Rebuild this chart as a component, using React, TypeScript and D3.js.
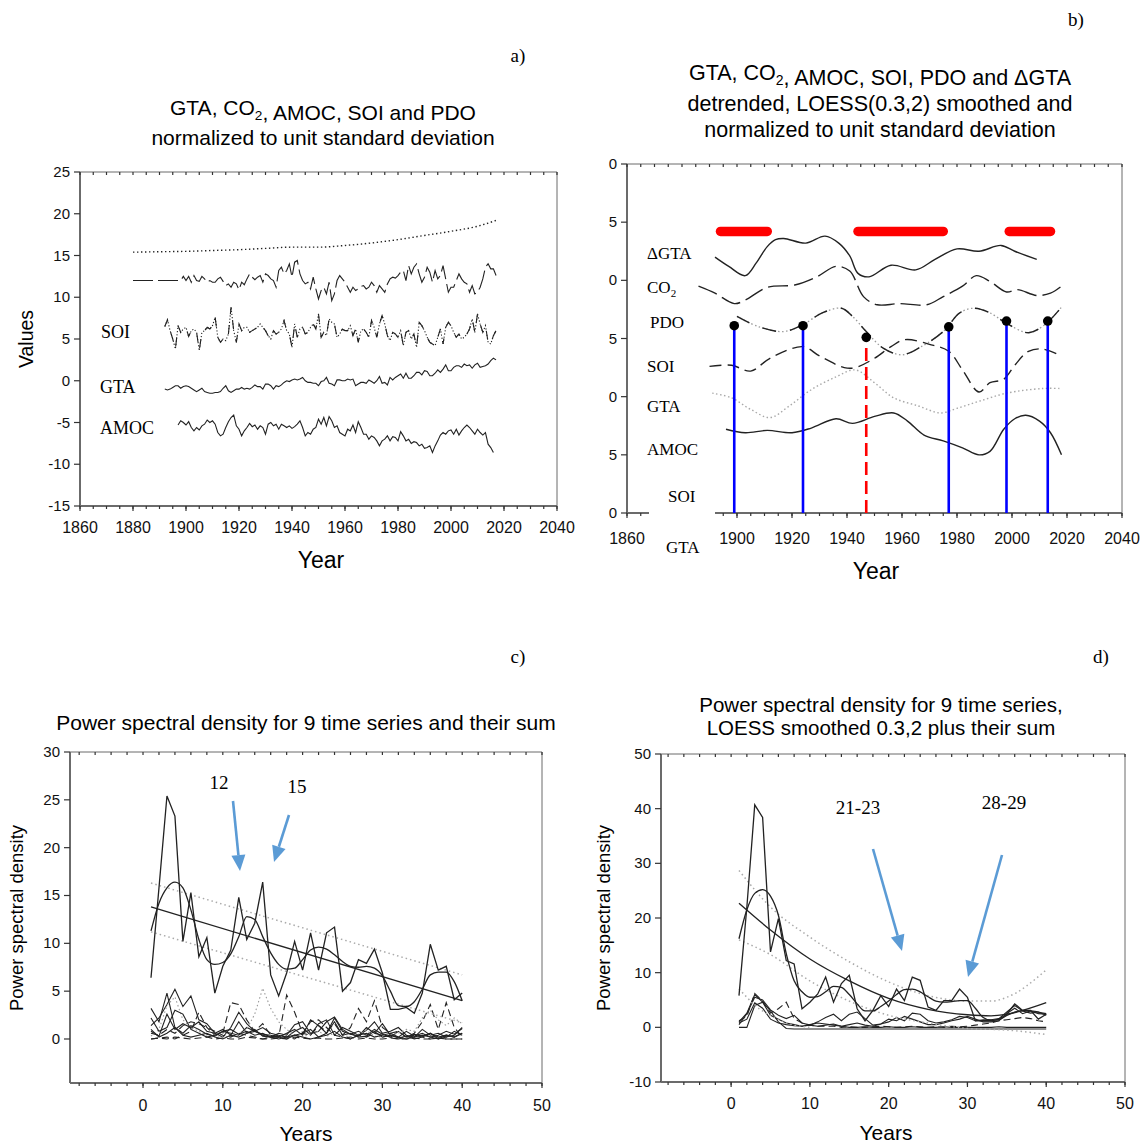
import React from 'react';
import * as d3 from 'd3';

const SANS = '"Liberation Sans", Arial, Helvetica, sans-serif';
const SERIF = '"Liberation Serif", "Times New Roman", Times, serif';
const AXIS = '#6b6b6b';
const INK = '#222';
const ARROW = '#5b9bd5';

// ---------- a) annual series ----------
const co2AYears = [1880, 1890, 1900, 1910, 1920, 1930, 1940, 1950, 1960, 1970, 1980, 1990, 2000, 2010, 2017];
const co2AValues = [15.4, 15.45, 15.5, 15.6, 15.7, 15.85, 16.0, 16.0, 16.2, 16.5, 16.9, 17.4, 17.9, 18.5, 19.2];

const pdoAEarlyYears = [1880, 1897];
const pdoAEarlyValues = [12.0, 12.0];
const pdoAStart = 1898;
const pdoAValues = [
  12.0, 12.5, 12.0, 12.5, 11.8, 12.6, 12.0, 11.9, 12.5, 12.2, 11.8, 12.0, 11.8, 11.8, 12.2, 12.4, 11.9, 11.4, 11.6, 11.2,
  11.8, 11.6, 10.9, 11.8, 11.5, 12.2, 12.8, 12.4, 12.1, 12.4, 12.6, 11.8, 12.8, 12.6, 12.2, 12.0, 11.2, 13.2, 13.6, 12.8,
  13.2, 14.0, 12.4, 14.2, 14.4, 12.8, 12.0, 11.6, 11.8, 11.0, 12.4, 11.0, 9.8, 10.8, 11.2, 10.4, 11.8, 9.6, 10.4, 12.0,
  12.6, 12.2, 11.8, 11.2, 10.6, 11.2, 10.8, 11.0, 11.3, 11.4, 11.0, 11.2, 11.8, 11.4, 10.6, 11.4, 11.0, 10.6, 11.6, 12.2,
  12.4, 12.3, 12.6, 13.0, 13.2, 12.0, 13.8, 12.8, 13.6, 14.0, 12.8, 11.8, 12.4, 13.6, 13.0, 11.8, 13.2, 12.2, 12.6, 13.8,
  12.2, 10.6, 11.2, 11.2, 12.0, 12.8, 12.2, 11.8, 11.6, 10.6, 11.4, 10.4, 10.6, 11.2, 12.2, 13.6, 14.0, 13.4, 13.4, 12.6,
];

const soiAStart = 1892;
const soiAValues = [
  6.5, 7.3, 6.0, 5.0, 3.8, 6.6, 5.8, 6.2, 6.4, 5.3, 6.0, 6.2, 5.8, 3.6, 5.8, 6.0, 6.4, 6.2, 6.6, 7.6,
  5.2, 4.6, 5.0, 4.8, 5.6, 8.8, 6.0, 4.6, 6.8, 6.0, 6.4, 6.4, 5.8, 6.0, 6.2, 6.4, 6.8, 6.4, 6.0, 5.4,
  5.0, 6.0, 5.6, 5.8, 6.2, 7.2, 6.0, 5.6, 4.0, 6.8, 5.2, 6.2, 6.4, 5.6, 5.8, 6.4, 6.8, 6.2, 8.0, 5.2,
  5.8, 5.4, 7.4, 7.0, 6.8, 5.2, 5.6, 6.2, 6.0, 6.0, 6.6, 5.4, 6.2, 4.6, 6.0, 6.2, 5.8, 5.2, 7.2, 6.4,
  5.2, 6.8, 7.8, 6.8, 5.4, 4.8, 5.8, 5.6, 5.2, 6.0, 4.2, 5.8, 6.0, 5.0, 5.6, 4.0, 7.0, 6.6, 6.0, 5.2,
  4.6, 4.4, 4.2, 5.2, 6.2, 4.4, 6.4, 7.0, 6.6, 5.8, 5.2, 5.6, 5.0, 5.2, 5.6, 6.2, 7.4, 5.8, 8.0, 6.8,
  5.8, 6.6, 4.6, 4.4, 5.4, 6.0,
];

const gtaAStart = 1892;
const gtaAValues = [
  -1.0, -1.1, -1.0, -0.8, -0.6, -0.6, -0.9, -0.7, -0.6, -0.7, -0.9, -1.1, -1.3, -1.1, -0.9, -1.3, -1.4, -1.5, -1.5, -1.4,
  -1.4, -1.3, -0.9, -0.6, -1.2, -1.4, -1.2, -1.0, -1.0, -0.8, -1.0, -0.9, -1.0, -0.8, -0.5, -0.7, -0.7, -1.0, -0.4, -0.4,
  -0.6, -1.0, -0.6, -0.7, -0.5, -0.2, 0.0, -0.1, 0.1, 0.2, 0.1, 0.2, 0.4, 0.0, -0.2, -0.2, -0.3, -0.3, -0.6, -0.1,
  0.0, 0.4, -0.3, -0.4, -0.6, 0.1, 0.1, 0.0, 0.0, 0.2, 0.1, 0.2, -0.6, -0.4, -0.2, -0.2, -0.3, 0.1, -0.1, -0.3,
  0.0, 0.5, -0.3, -0.2, -0.5, 0.4, 0.1, 0.4, 0.6, 0.8, 0.3, 0.9, 0.3, 0.3, 0.6, 1.0, 1.0, 0.7, 1.2, 1.1,
  0.6, 0.6, 0.9, 1.3, 1.0, 1.4, 1.9, 1.2, 1.2, 1.6, 1.8, 1.8, 1.6, 2.0, 1.8, 1.9, 1.5, 1.9, 2.1, 1.6,
  1.7, 1.8, 2.0, 2.4, 2.7, 2.5,
];

const amocAStart = 1897;
const amocAValues = [
  -5.3, -4.8, -5.0, -5.3, -4.9, -5.6, -6.0, -5.6, -5.9, -5.4, -5.2, -4.7, -5.0, -4.8, -5.2, -6.2, -6.6, -6.4, -5.6, -4.9,
  -4.4, -4.1, -5.4, -5.8, -6.6, -6.0, -5.6, -5.1, -5.5, -5.3, -5.8, -5.4, -5.6, -6.4, -5.2, -5.0, -5.4, -5.2, -5.8, -5.2,
  -5.4, -5.6, -5.4, -5.7, -5.5, -5.2, -4.8, -5.6, -6.6, -6.2, -6.4, -5.8, -5.6, -4.6, -5.2, -4.4, -5.4, -4.3, -4.8, -5.6,
  -5.4, -6.2, -6.4, -6.6, -5.8, -6.0, -5.3, -6.2, -4.9, -5.6, -6.4, -6.4, -7.0, -6.6, -6.8, -7.2, -7.8, -7.2, -7.0, -6.6,
  -7.2, -6.7, -6.8, -7.2, -6.1, -6.6, -7.2, -7.0, -7.5, -7.3, -7.4, -7.8, -7.6, -8.1, -8.0, -7.8, -8.6, -7.8, -7.2, -6.5,
  -6.2, -6.4, -6.0, -5.9, -6.4, -5.8, -6.5, -6.0, -5.6, -5.3, -5.6, -6.0, -6.4, -5.8, -6.2, -6.5, -6.2, -7.6, -8.0, -8.6,
];

// ---------- b) detrended, smoothed series ----------
const dgtaBYears = [1892, 1897, 1903, 1907, 1911, 1914, 1917, 1925, 1932, 1937, 1941, 1944, 1948, 1956, 1965, 1972, 1980, 1988, 1996, 2001, 2009];
const dgtaBValues = [22.0, 21.2, 20.4, 21.5, 22.9, 23.5, 23.6, 23.2, 23.8, 23.2, 22.1, 20.6, 20.3, 21.3, 20.9, 21.8, 22.7, 22.5, 23.0, 22.5, 21.8];
const co2BYears = [1886, 1892, 1899, 1903, 1911, 1921, 1929, 1936, 1941, 1946, 1951, 1959, 1969, 1975, 1982, 1987, 1992, 1998, 2002, 2009, 2014, 2018];
const co2BValues = [19.5, 18.9, 18.0, 18.3, 19.4, 19.6, 20.3, 21.2, 20.8, 18.6, 17.9, 18.0, 17.9, 18.6, 19.5, 20.4, 19.9, 19.0, 19.2, 18.7, 18.9, 19.5];
const pdoBYears = [1900, 1908, 1917, 1924, 1931, 1938, 1942, 1947, 1953, 1960, 1967, 1975, 1981, 1986, 1992, 1998, 2006, 2012, 2018];
const pdoBValues = [16.9, 16.0, 15.6, 16.2, 17.2, 17.6, 16.9, 15.6, 14.2, 13.6, 14.3, 15.6, 17.2, 17.6, 17.2, 16.3, 15.5, 16.2, 17.7];
const soiBYears = [1890, 1898, 1905, 1912, 1924, 1930, 1939, 1943, 1950, 1956, 1961, 1970, 1977, 1982, 1988, 1992, 1997, 2001, 2006, 2011, 2018];
const soiBValues = [12.6, 12.7, 12.2, 13.3, 14.3, 13.5, 12.5, 12.5, 13.3, 14.3, 14.9, 14.5, 13.9, 12.3, 10.4, 11.2, 11.5, 12.7, 13.9, 14.1, 13.5];
const gtaBYears = [1891, 1898, 1905, 1912, 1919, 1927, 1936, 1943, 1950, 1957, 1966, 1974, 1980, 1988, 1998, 2011, 2018];
const gtaBValues = [10.3, 9.9, 8.9, 8.2, 9.2, 10.6, 11.7, 12.3, 11.2, 9.9, 9.2, 8.6, 9.0, 9.6, 10.3, 10.7, 10.7];
const amocBYears = [1896, 1903, 1911, 1920, 1927, 1936, 1942, 1950, 1957, 1962, 1968, 1975, 1982, 1988, 1992, 1997, 2001, 2005, 2010, 2014, 2018];
const amocBValues = [7.2, 6.9, 7.1, 6.9, 7.3, 8.1, 7.7, 8.3, 8.6, 7.9, 6.7, 6.2, 5.6, 5.0, 5.3, 7.2, 8.1, 8.4, 7.9, 6.9, 5.0];

const blueYears = [1899, 1924, 1977, 1998, 2013];
const blueTops = [16.1, 16.1, 16.0, 16.5, 16.5];
const redYears = [1947];
const redTops = [15.1];
const redBarStarts = [1894, 1944, 1999];
const redBarEnds = [1911, 1975, 2014];
const redBarLevel = 24.2;

// ---------- c) power spectral density, raw ----------
const periods = d3.range(1, 41);
const sumC = [6.4, 15.8, 25.4, 23.3, 10.2, 15.3, 8.6, 10.6, 4.8, 7.6, 9.3, 14.8, 10.4, 12.1, 16.4, 6.7, 4.5, 6.9, 10.2, 7.2,
  11.1, 7.2, 11.1, 11.7, 5.0, 5.9, 8.3, 7.9, 9.4, 6.9, 3.1, 3.1, 3.3, 2.7, 4.8, 9.9, 7.2, 7.6, 4.1, 4.8];
const smoothC = [11.3, 14.2, 15.8, 16.4, 15.8, 13.5, 10.4, 8.3, 7.8, 8.0, 8.9, 10.7, 12.8, 12.5, 10.7, 9.0, 7.8, 7.3, 7.4, 8.3,
  9.3, 9.6, 9.4, 8.8, 8.1, 7.6, 7.5, 7.6, 7.4, 6.6, 5.0, 3.5, 3.4, 3.9, 5.2, 6.7, 7.0, 7.0, 6.0, 4.0];
const trendCX = [1, 40];
const trendC = [13.8, 4.0];
const upperC = [16.3, 6.7];
const lowerC = [11.2, 1.7];
const lowC = [
  [3.2, 1.8, 4.8, 1.2, 0.6, 1.4, 1.0, 0.5, 0.3, 0.8, 0.6, 0.4, 1.2, 0.8, 0.5, 0.4, 0.2, 0.6, 1.0, 0.4, 2.0, 1.4, 0.6, 2.2, 0.8, 0.5, 0.3, 1.2, 0.6, 1.6, 0.4, 0.2, 0.8, 0.3, 0.6, 0.2, 0.4, 0.8, 0.5, 1.1],
  [1.4, 2.2, 3.6, 5.2, 3.4, 4.5, 2.0, 1.6, 0.6, 1.0, 0.4, 1.8, 0.6, 1.0, 0.3, 0.2, 0.6, 0.4, 1.5, 1.8, 0.6, 0.8, 1.8, 2.3, 1.0, 0.5, 0.8, 0.4, 1.0, 0.5, 0.2, 0.8, 0.2, 0.5, 0.3, 0.6, 0.2, 0.4, 0.2, 0.6],
  [0.8, 0.3, 2.6, 1.0, 1.6, 1.2, 1.8, 0.8, 0.6, 0.2, 1.2, 2.8, 1.6, 0.8, 1.2, 0.6, 0.4, 0.2, 0.8, 1.2, 0.4, 1.6, 2.0, 0.4, 1.2, 0.8, 0.4, 0.9, 1.8, 0.6, 0.8, 1.2, 0.4, 0.2, 1.0, 0.4, 0.6, 0.2, 0.8, 0.4],
  [0.0, 0.1, 0.2, 0.0, 0.4, 0.8, 2.8, 1.2, 0.4, 0.6, 3.8, 3.6, 2.0, 0.8, 1.6, 0.4, 0.2, 4.6, 2.8, 0.6, 0.4, 1.4, 0.8, 1.6, 0.4, 1.2, 3.2, 1.8, 4.0, 1.2, 0.6, 0.8, 0.2, 0.6, 1.8, 3.6, 1.0, 3.8, 1.2, 0.2],
  [0.0, 0.1, 0.0, 0.2, 0.1, 0.0, 0.1, 0.2, 0.0, 0.1, 0.0, 0.0, 0.2, 0.1, 0.0, 0.0, 0.1, 0.0, 0.2, 0.1, 0.0, 0.1, 0.0, 0.0, 0.1, 0.2, 0.0, 0.1, 0.0, 0.0, 0.1, 0.0, 0.0, 0.1, 0.0, 0.0, 0.1, 0.0, 0.0, 0.0],
  [0.3, 1.0, 3.5, 4.4, 2.0, 1.2, 0.8, 0.3, 0.4, 0.2, 0.3, 0.6, 1.0, 2.6, 5.3, 3.2, 1.8, 1.0, 0.4, 0.2, 0.5, 0.8, 0.3, 0.6, 0.4, 0.2, 0.5, 0.9, 0.3, 0.2, 0.4, 0.6, 1.0, 0.8, 2.2, 3.0, 2.0, 1.4, 2.2, 1.6],
  [2.2, 0.8, 1.2, 3.0, 2.6, 1.0, 0.6, 0.2, 0.4, 0.8, 1.0, 0.5, 0.8, 0.4, 0.6, 0.2, 0.2, 0.0, 0.4, 0.6, 1.0, 0.2, 0.6, 1.8, 0.4, 0.6, 0.2, 0.3, 0.8, 0.2, 0.4, 0.1, 0.3, 0.0, 0.2, 0.6, 0.0, 0.2, 0.4, 1.2],
  [0.6, 0.4, 1.0, 0.6, 1.4, 1.8, 1.6, 1.2, 0.8, 0.4, 0.2, 0.6, 0.4, 0.2, 0.0, 0.2, 0.4, 0.2, 0.0, 0.6, 1.8, 2.0, 1.2, 0.4, 0.2, 0.0, 0.4, 0.2, 0.6, 0.4, 0.2, 0.0, 0.2, 0.4, 0.2, 0.0, 0.1, 0.0, 0.0, 0.0],
  [1.0, 0.2, 0.6, 1.2, 0.4, 0.2, 0.4, 0.6, 0.2, 0.0, 0.4, 0.2, 0.6, 0.8, 0.4, 0.2, 0.0, 0.2, 0.4, 0.2, 0.0, 0.2, 0.4, 0.8, 0.2, 0.0, 0.4, 0.6, 0.2, 0.4, 0.6, 0.2, 0.0, 0.2, 0.4, 0.2, 0.0, 0.4, 0.2, 0.6],
];
const lowCStyles = ['solid', 'solid', 'solid', 'dash', 'dash', 'dot', 'solid', 'dash', 'solid'];

// ---------- d) power spectral density, LOESS smoothed ----------
const sumD = [5.8, 22.0, 40.7, 38.4, 13.8, 19.9, 12.2, 11.6, 3.4, 4.6, 6.1, 9.2, 4.6, 8.0, 9.5, 3.4, 1.2, 3.1, 5.8, 3.8,
  7.0, 4.9, 9.2, 8.6, 3.7, 3.1, 4.9, 4.9, 7.0, 5.5, 1.2, 1.2, 1.2, 1.5, 2.4, 4.3, 3.1, 3.1, 1.5, 2.4];
const smoothD = [16.2, 21.5, 24.5, 25.2, 24.0, 20.5, 13.5, 8.5, 6.5, 5.5, 5.6, 6.5, 7.5, 7.3, 6.0, 4.3, 3.0, 3.0, 3.8, 4.8,
  6.0, 6.9, 7.0, 6.5, 5.6, 4.8, 4.6, 4.7, 4.9, 4.9, 3.5, 1.8, 1.3, 1.4, 2.2, 2.8, 3.0, 3.0, 2.8, 2.5];
const fitDX = [1, 5, 10, 15, 20, 25, 30, 33, 35, 40];
const fitD = [22.7, 17.8, 12.5, 8.5, 5.3, 3.3, 2.3, 2.1, 2.4, 4.5];
const upperD = [28.7, 22.0, 16.5, 12.0, 8.3, 5.8, 4.8, 4.8, 5.5, 10.5];
const lowerDX = [1, 5, 10, 15, 20, 25, 30, 35, 40];
const lowerD = [16.0, 13.3, 8.5, 4.8, 2.2, 0.8, -0.2, -0.5, -1.3];
const lowD = [
  [1.0, 2.6, 6.0, 4.6, 3.0, 1.0, -0.2, -0.3, -0.3, -0.3, -0.3, -0.3, -0.3, -0.3, -0.3, -0.3, -0.3, -0.3, -0.3, -0.3, -0.3, -0.3, -0.3, -0.3, -0.3, -0.3, -0.3, -0.3, -0.3, -0.3, -0.3, -0.3, -0.3, -0.3, -0.3, -0.3, -0.3, -0.3, -0.3, -0.3],
  [0.5, 2.5, 5.5, 5.0, 3.2, 2.2, 1.6, 2.2, 0.8, 0.4, 1.0, 1.8, 2.4, 1.2, 2.4, 2.8, 1.6, 0.4, 0.6, 1.0, 1.8, 1.2, 2.6, 2.4, 1.2, 0.8, 1.0, 1.4, 2.0, 1.8, 1.2, 1.4, 1.4, 1.6, 2.8, 4.0, 3.0, 2.6, 2.8, 2.2],
  [0.0, 0.0, 4.0, 4.6, 2.2, 1.5, 0.8, 0.5, 0.2, 0.4, 0.2, 0.4, 0.6, 0.2, 0.0, 0.0, 0.1, 0.0, 0.0, 0.1, 0.0, 0.0, 0.1, 0.0, 0.0, 0.0, 0.1, 0.0, 0.0, 0.0, 0.0, 0.0, 0.0, 0.1, 0.0, 0.0, 0.0, 0.0, 0.0, 0.0],
  [1.2, 2.0, 6.2, 4.8, 2.6, 3.4, 4.6, 1.6, 0.8, 0.4, 0.2, 0.2, 0.2, 0.0, 0.1, 0.0, 0.0, 0.1, 0.2, 0.1, 0.0, 0.1, 0.2, 0.1, 0.0, 0.1, 0.0, 0.2, 0.1, 0.2, 0.4, 0.6, 0.8, 1.2, 1.4, 1.6, 1.8, 1.6, 1.2, 1.0],
  [0.8, 1.5, 4.5, 3.5, 1.5, 0.8, 0.5, 0.3, 0.2, 0.5, 0.8, 0.6, 0.4, 0.2, 0.5, 0.8, 0.4, 0.2, 0.6, 1.5, 1.2, 2.0, 1.5, 1.0, 0.5, 0.5, 0.8, 1.2, 1.5, 2.0, 1.5, 1.0, 1.0, 1.2, 2.5, 3.5, 2.5, 3.0, 2.5, 2.4],
];
const lowDStyles = ['solid', 'solid', 'solid', 'dash', 'solid'];
const dotDX = [1, 2, 3, 4, 5, 6, 7, 8, 9, 10];
const dotD = [7.0, 5.5, 4.0, 3.0, 2.2, 1.5, 0.8, 0.4, 0.2, 0.0];

type Pt = [number, number];
type Lin = d3.ScaleLinear<number, number>;
const zip = (xv: number[], yv: number[]): Pt[] => xv.map((x, i) => [x, yv[i]]);
const annual = (start: number, vals: number[]): Pt[] => zip(d3.range(start, start + vals.length), vals);
const pathOf = (xs: Lin, ys: Lin, pts: Pt[], curve: d3.CurveFactory = d3.curveLinear) =>
  d3.line<Pt>().x((d) => xs(d[0])).y((d) => ys(d[1])).curve(curve)(pts) || '';

const DASH: Record<string, string | undefined> = { solid: undefined, dash: '7,4', dot: '1.5,2.5' };

interface AxesProps {
  xs: Lin;
  ys: Lin;
  xMajor: number[];
  xMinor: number[];
  yMajor: number[];
  yText: (v: number) => string;
  xLabelDy: number;
  bottomSegs?: Pt[];
}

function Axes({ xs, ys, xMajor, xMinor, yMajor, yText, xLabelDy, bottomSegs }: AxesProps) {
  const [x0, x1] = xs.range();
  const [yb, yt] = ys.range();
  const segs: Pt[] = bottomSegs ?? [[xs.domain()[0], xs.domain()[1]]];
  const inSeg = (v: number) => segs.some(([a, b]) => v >= a - 1e-6 && v <= b + 1e-6);
  return (
    <g stroke={AXIS} fill="none">
      <line x1={x0} x2={x1} y1={yt} y2={yt} strokeWidth={1} />
      <line x1={x1} x2={x1} y1={yt} y2={yb} strokeWidth={1} />
      <line x1={x0} x2={x0} y1={yt} y2={yb} strokeWidth={2} />
      {segs.map(([a, b], i) => (
        <line key={i} x1={xs(a)} x2={xs(b)} y1={yb} y2={yb} strokeWidth={2} />
      ))}
      {xMinor.map((v) => (
        <g key={`m${v}`} strokeWidth={1.2} stroke="#333">
          <line x1={xs(v)} x2={xs(v)} y1={yt} y2={yt + 3} />
          {inSeg(v) && <line x1={xs(v)} x2={xs(v)} y1={yb} y2={yb + 3} />}
        </g>
      ))}
      {xMajor.map((v) => (
        <g key={`M${v}`}>
          {inSeg(v) && <line x1={xs(v)} x2={xs(v)} y1={yb} y2={yb + 5} strokeWidth={1.2} stroke="#333" />}
          <text x={xs(v)} y={yb + xLabelDy} textAnchor="middle" fontFamily={SANS} fontSize={16} fill="#111" stroke="none">
            {v}
          </text>
        </g>
      ))}
      {yMajor.map((v) => (
        <g key={`y${v}`}>
          <line x1={x0 - 6} x2={x0} y1={ys(v)} y2={ys(v)} strokeWidth={1.2} stroke="#333" />
          <text x={x0 - 10} y={ys(v) + 5} textAnchor="end" fontFamily={SANS} fontSize={15} fill="#111" stroke="none">
            {yText(v)}
          </text>
        </g>
      ))}
    </g>
  );
}

const Co2 = ({ size }: { size: number }) => (
  <>
    CO<tspan fontSize={size * 0.65} dy={size * 0.25}>2</tspan>
    <tspan dy={-size * 0.25}></tspan>
  </>
);

function Arrow({ x1, y1, x2, y2 }: { x1: number; y1: number; x2: number; y2: number }) {
  const a = Math.atan2(y2 - y1, x2 - x1);
  const L = 16;
  const W = 7;
  const bx = x2 - L * Math.cos(a);
  const by = y2 - L * Math.sin(a);
  const px = -Math.sin(a) * W;
  const py = Math.cos(a) * W;
  return (
    <g>
      <line x1={x1} y1={y1} x2={bx} y2={by} stroke={ARROW} strokeWidth={2.6} />
      <polygon points={`${x2},${y2} ${bx + px},${by + py} ${bx - px},${by - py}`} fill={ARROW} />
    </g>
  );
}

function PanelA() {
  const xs = d3.scaleLinear().domain([1860, 2040]).range([80, 557]);
  const ys = d3.scaleLinear().domain([-15, 25]).range([506, 172]);
  const pdo = [...zip(pdoAEarlyYears, pdoAEarlyValues), ...annual(pdoAStart, pdoAValues)];
  const soi = annual(soiAStart, soiAValues);
  return (
    <g>
      <text x={518} y={62} textAnchor="middle" fontFamily={SERIF} fontSize={19}>a)</text>
      <text x={323} y={115} textAnchor="middle" fontFamily={SANS} fontSize={21}>
        GTA, <Co2 size={21} />, AMOC, SOI and PDO
      </text>
      <text x={323} y={145} textAnchor="middle" fontFamily={SANS} fontSize={21}>normalized to unit standard deviation</text>
      <Axes xs={xs} ys={ys} xMajor={d3.range(1860, 2041, 20)} xMinor={d3.range(1860, 2041, 5)}
        yMajor={d3.range(-15, 26, 5)} yText={(v) => String(v)} xLabelDy={27} />
      <path d={pathOf(xs, ys, zip(co2AYears, co2AValues), d3.curveMonotoneX)} fill="none" stroke={INK} strokeWidth={1.4} strokeDasharray="1.4,2.6" />
      <path d={pathOf(xs, ys, pdo)} fill="none" stroke={INK} strokeWidth={1.1} strokeDasharray="20,5" />
      <path d={pathOf(xs, ys, soi)} fill="none" stroke={INK} strokeWidth={1.1} strokeDasharray="1.2,2" />
      <path d={pathOf(xs, ys, soi)} fill="none" stroke={INK} strokeWidth={1.1} strokeDasharray="9,11" />
      <path d={pathOf(xs, ys, annual(gtaAStart, gtaAValues))} fill="none" stroke={INK} strokeWidth={1.1} />
      <path d={pathOf(xs, ys, annual(amocAStart, amocAValues))} fill="none" stroke={INK} strokeWidth={1.1} />
      <g fontFamily={SERIF} fontSize={18}>
        <text x={101} y={338}>SOI</text>
        <text x={100} y={393}>GTA</text>
        <text x={100} y={434}>AMOC</text>
      </g>
      <text x={321} y={568} textAnchor="middle" fontFamily={SANS} fontSize={23}>Year</text>
      <text transform="translate(33,339) rotate(-90)" textAnchor="middle" fontFamily={SANS} fontSize={19.5}>Values</text>
    </g>
  );
}

function PanelB() {
  const xs = d3.scaleLinear().domain([1860, 2040]).range([627, 1122]);
  const ys = d3.scaleLinear().domain([0, 30]).range([513, 164]);
  const smooth = d3.curveCatmullRom;
  const pdo = zip(pdoBYears, pdoBValues);
  return (
    <g>
      <text x={1076} y={26} textAnchor="middle" fontFamily={SERIF} fontSize={19}>b)</text>
      <g fontFamily={SANS} fontSize={21.5} textAnchor="middle">
        <text x={880} y={80}>GTA, <Co2 size={21.5} />, AMOC, SOI, PDO and ΔGTA</text>
        <text x={880} y={111}>detrended, LOESS(0.3,2) smoothed and</text>
        <text x={880} y={137}>normalized to unit standard deviation</text>
      </g>
      <Axes xs={xs} ys={ys} xMajor={[1860, 1900, 1920, 1940, 1960, 1980, 2000, 2020, 2040]}
        xMinor={d3.range(1860, 2041, 5)} yMajor={d3.range(0, 31, 5)} yText={(v) => String(v % 10)}
        xLabelDy={31} bottomSegs={[[1860, 1868], [1892, 2040]]} />
      {redBarStarts.map((s, i) => (
        <line key={i} x1={xs(s)} x2={xs(redBarEnds[i])} y1={ys(redBarLevel)} y2={ys(redBarLevel)}
          stroke="#ff0000" strokeWidth={9.5} strokeLinecap="round" />
      ))}
      <path d={pathOf(xs, ys, zip(dgtaBYears, dgtaBValues), smooth)} fill="none" stroke={INK} strokeWidth={1.4} />
      <path d={pathOf(xs, ys, zip(co2BYears, co2BValues), smooth)} fill="none" stroke={INK} strokeWidth={1.4} strokeDasharray="20,6" />
      <path d={pathOf(xs, ys, pdo, smooth)} fill="none" stroke="#9a9a9a" strokeWidth={1.3} strokeDasharray="1.5,2.5" />
      <path d={pathOf(xs, ys, pdo, smooth)} fill="none" stroke={INK} strokeWidth={1.4} strokeDasharray="14,14" />
      <path d={pathOf(xs, ys, zip(soiBYears, soiBValues), smooth)} fill="none" stroke={INK} strokeWidth={1.4} strokeDasharray="12,6" />
      <path d={pathOf(xs, ys, zip(gtaBYears, gtaBValues), smooth)} fill="none" stroke="#a8a8a8" strokeWidth={1.4} strokeDasharray="1.5,2.5" />
      <path d={pathOf(xs, ys, zip(amocBYears, amocBValues), smooth)} fill="none" stroke={INK} strokeWidth={1.4} />
      {blueYears.map((yr, i) => (
        <g key={yr}>
          <line x1={xs(yr)} x2={xs(yr)} y1={ys(0)} y2={ys(blueTops[i])} stroke="#0000ff" strokeWidth={2.6} />
          <circle cx={xs(yr)} cy={ys(blueTops[i])} r={4.8} fill="#000" />
        </g>
      ))}
      {redYears.map((yr, i) => (
        <g key={yr}>
          <line x1={xs(yr)} x2={xs(yr)} y1={ys(0)} y2={ys(redTops[i])} stroke="#ff0000" strokeWidth={2.6} strokeDasharray="13,6" />
          <circle cx={xs(yr)} cy={ys(redTops[i])} r={4.8} fill="#000" />
        </g>
      ))}
      <g fontFamily={SERIF} fontSize={17}>
        <text x={647} y={259}>ΔGTA</text>
        <text x={647} y={293}><Co2 size={17} /></text>
        <text x={650} y={328}>PDO</text>
        <text x={647} y={372}>SOI</text>
        <text x={647} y={412}>GTA</text>
        <text x={647} y={455}>AMOC</text>
        <text x={668} y={502}>SOI</text>
        <text x={666} y={553}>GTA</text>
      </g>
      <text x={876} y={579} textAnchor="middle" fontFamily={SANS} fontSize={23}>Year</text>
    </g>
  );
}

function PsdPanel({ which }: { which: 'c' | 'd' }) {
  const isC = which === 'c';
  const xs = isC ? d3.scaleLinear().domain([-9.15, 50]).range([70, 542]) : d3.scaleLinear().domain([-8.9, 50]).range([661, 1125]);
  const ys = isC ? d3.scaleLinear().domain([-4.6, 30]).range([1083, 752]) : d3.scaleLinear().domain([-10, 50]).range([1082, 754]);
  const low = isC ? lowC : lowD;
  const lowStyles = isC ? lowCStyles : lowDStyles;
  return (
    <g>
      <Axes xs={xs} ys={ys} xMajor={d3.range(0, 51, 10)} xMinor={d3.range(-8, 51, 2)}
        yMajor={isC ? d3.range(0, 31, 5) : d3.range(-10, 51, 10)} yText={(v) => String(v)} xLabelDy={isC ? 28 : 27} />
      {low.map((vals, i) => (
        <path key={i} d={pathOf(xs, ys, zip(periods, vals))} fill="none"
          stroke={lowStyles[i] === 'dot' ? '#9a9a9a' : INK} strokeWidth={1.1} strokeDasharray={DASH[lowStyles[i]]} />
      ))}
      {isC ? (
        <>
          <path d={pathOf(xs, ys, zip(trendCX, upperC))} fill="none" stroke="#aaa" strokeWidth={1.5} strokeDasharray="1.5,3" />
          <path d={pathOf(xs, ys, zip(trendCX, lowerC))} fill="none" stroke="#aaa" strokeWidth={1.5} strokeDasharray="1.5,3" />
          <path d={pathOf(xs, ys, zip(trendCX, trendC))} fill="none" stroke={INK} strokeWidth={1.3} />
          <path d={pathOf(xs, ys, zip(periods, sumC))} fill="none" stroke={INK} strokeWidth={1.3} />
          <path d={pathOf(xs, ys, zip(periods, smoothC), d3.curveMonotoneX)} fill="none" stroke={INK} strokeWidth={1.3} />
        </>
      ) : (
        <>
          <path d={pathOf(xs, ys, zip(fitDX, upperD), d3.curveMonotoneX)} fill="none" stroke="#aaa" strokeWidth={1.5} strokeDasharray="1.5,3" />
          <path d={pathOf(xs, ys, zip(lowerDX, lowerD), d3.curveMonotoneX)} fill="none" stroke="#aaa" strokeWidth={1.5} strokeDasharray="1.5,3" />
          <path d={pathOf(xs, ys, zip(dotDX, dotD), d3.curveMonotoneX)} fill="none" stroke="#aaa" strokeWidth={1.5} strokeDasharray="1.5,3" />
          <path d={pathOf(xs, ys, zip(fitDX, fitD), d3.curveMonotoneX)} fill="none" stroke={INK} strokeWidth={1.3} />
          <path d={pathOf(xs, ys, zip(periods, sumD))} fill="none" stroke={INK} strokeWidth={1.3} />
          <path d={pathOf(xs, ys, zip(periods, smoothD), d3.curveMonotoneX)} fill="none" stroke={INK} strokeWidth={1.3} />
        </>
      )}
    </g>
  );
}

export default function App() {
  return (
    <svg width={1148} height={1147} viewBox="0 0 1148 1147"
      style={{ position: 'absolute', left: 0, top: 0, background: '#fff' }} fontFamily={SANS}>
      <rect width={1148} height={1147} fill="#fff" />
      <PanelA />
      <PanelB />

      {/* c) */}
      <text x={518} y={663} textAnchor="middle" fontFamily={SERIF} fontSize={19}>c)</text>
      <text x={306} y={730} textAnchor="middle" fontFamily={SANS} fontSize={21}>Power spectral density for 9 time series and their sum</text>
      <PsdPanel which="c" />
      <text x={219} y={789} textAnchor="middle" fontFamily={SERIF} fontSize={19}>12</text>
      <text x={297} y={793} textAnchor="middle" fontFamily={SERIF} fontSize={19}>15</text>
      <Arrow x1={233} y1={801} x2={240} y2={871} />
      <Arrow x1={289} y1={815} x2={274} y2={862} />
      <text x={306} y={1141} textAnchor="middle" fontFamily={SANS} fontSize={21}>Years</text>
      <text transform="translate(23,918) rotate(-90)" textAnchor="middle" fontFamily={SANS} fontSize={18.5}>Power spectral density</text>

      {/* d) */}
      <text x={1101} y={663} textAnchor="middle" fontFamily={SERIF} fontSize={19}>d)</text>
      <text x={881} y={712} textAnchor="middle" fontFamily={SANS} fontSize={20.5}>Power spectral density for 9 time series,</text>
      <text x={881} y={735} textAnchor="middle" fontFamily={SANS} fontSize={20.5}>LOESS smoothed 0.3,2 plus their sum</text>
      <PsdPanel which="d" />
      <text x={858} y={814} textAnchor="middle" fontFamily={SERIF} fontSize={19}>21-23</text>
      <text x={1004} y={809} textAnchor="middle" fontFamily={SERIF} fontSize={19}>28-29</text>
      <Arrow x1={873} y1={849} x2={902} y2={951} />
      <Arrow x1={1002} y1={855} x2={968} y2={977} />
      <text x={886} y={1140} textAnchor="middle" fontFamily={SANS} fontSize={21}>Years</text>
      <text transform="translate(610,918) rotate(-90)" textAnchor="middle" fontFamily={SANS} fontSize={18.5}>Power spectral density</text>
    </svg>
  );
}
